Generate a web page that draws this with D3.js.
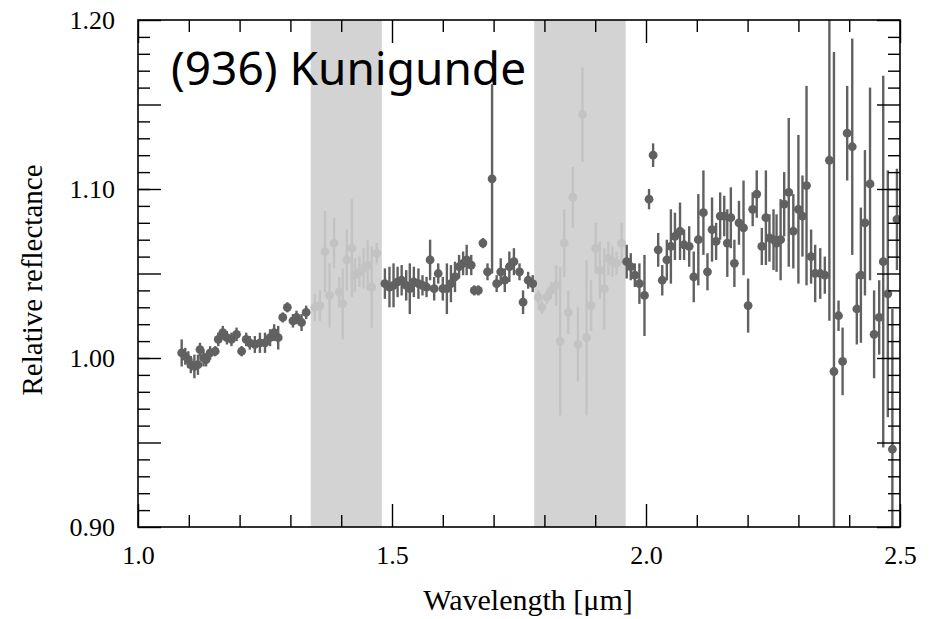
<!DOCTYPE html>
<html><head><meta charset="utf-8">
<script src="https://cdn.jsdelivr.net/npm/d3@7"></script>
<style>body{margin:0;background:#fff}</style>
</head><body>
<svg id="c" width="930" height="619"></svg>
<script>
const wavelength=[1.086,1.093,1.099,1.104,1.111,1.118,1.122,1.129,1.134,1.142,1.152,1.158,1.167,1.175,1.184,1.194,1.204,1.213,1.220,1.230,1.240,1.250,1.260,1.268,1.276,1.285,1.294,1.305,1.312,1.322,1.331,
1.348,1.358,1.368,1.377,1.386,1.396,1.403,1.411,1.421,1.427,1.436,1.444,1.452,1.460,1.470,
1.486,1.495,1.503,1.511,1.519,1.528,1.535,1.543,1.552,1.560,1.568,1.575,1.583,1.591,1.600,1.608,1.616,1.624,1.632,1.640,1.647,1.656,1.662,1.670,1.679,1.688,1.697,1.706,1.714,1.722,1.731,1.740,1.751,1.758,1.768,1.777,
1.788,1.795,1.805,1.813,1.823,1.831,1.839,1.847,1.856,1.866,1.875,1.883,1.892,1.901,1.909,1.918,1.926,1.934,1.942,1.952,
1.962,1.970,1.978,1.987,1.997,2.006,2.014,2.024,2.032,2.041,2.049,2.057,2.067,2.075,2.085,2.094,2.103,2.113,2.121,2.130,2.138,2.146,2.154,2.160,2.167,2.174,2.183,2.192,2.201,2.210,2.218,2.228,2.236,2.243,2.251,2.257,2.265,2.272,2.281,2.290,2.300,2.308,2.316,2.325,2.333,2.343,2.352,2.361,2.370,2.379,2.387,2.396,2.406,2.415,2.423,2.431,2.441,2.449,2.459,2.467,2.476,2.485,2.494];
const reflectance=[1.003,1.001,0.999,0.996,0.995,0.996,1.005,1.000,0.999,1.003,1.004,1.011,1.015,1.012,1.011,1.014,1.004,1.011,1.009,1.008,1.009,1.009,1.012,1.015,1.012,1.024,1.030,1.022,1.024,1.021,1.027,
1.030,1.031,1.063,1.037,1.068,1.039,1.032,1.058,1.065,1.049,1.051,1.053,1.055,1.042,1.062,
1.044,1.042,1.043,1.045,1.046,1.043,1.041,1.045,1.044,1.043,1.042,1.058,1.041,1.050,1.041,1.041,1.044,1.048,1.054,1.056,1.058,1.055,1.040,1.040,1.068,1.051,1.106,1.044,1.051,1.046,1.054,1.057,1.051,1.033,1.046,1.044,
1.036,1.030,1.036,1.040,1.043,1.010,1.068,1.027,1.095,1.008,1.144,1.012,1.031,1.065,1.052,1.041,1.059,1.057,1.056,1.068,
1.057,1.054,1.049,1.044,1.037,1.094,1.120,1.064,1.046,1.058,1.066,1.072,1.075,1.067,1.066,1.048,1.070,1.086,1.051,1.076,1.069,1.084,1.084,1.068,1.083,1.056,1.080,1.077,1.031,1.088,1.097,1.066,1.083,1.071,1.070,1.068,1.070,1.091,1.098,1.075,1.088,1.084,1.102,1.060,1.050,1.050,1.049,1.117,0.992,1.025,0.998,1.133,1.125,1.029,1.049,1.080,1.103,1.014,1.024,1.057,1.038,0.946,1.082];
const errors=[.008,.005,.005,.005,.007,.006,.004,.005,.004,.004,.003,.004,.004,.004,.004,.004,.003,.004,.004,.005,.006,.006,.005,.005,.007,.003,.003,.004,.004,.005,.004,
.008,.009,.024,.019,.015,.009,.021,.018,.029,.010,.009,.012,.015,.024,.006,
.009,.012,.013,.009,.009,.009,.015,.009,.009,.006,.006,.012,.007,.006,.007,.015,.011,.009,.007,.007,.009,.006,.003,.003,.003,.005,.056,.005,.008,.007,.009,.008,.005,.007,.005,.005,
.004,.004,.004,.005,.012,.044,.020,.013,.018,.022,.028,.046,.015,.015,.017,.024,.010,.009,.007,.012,
.010,.008,.007,.012,.024,.006,.007,.010,.009,.012,.022,.014,.017,.009,.012,.015,.027,.025,.011,.019,.011,.014,.012,.020,.018,.014,.013,.028,.016,.010,.014,.011,.028,.014,.018,.017,.024,.019,.044,.022,.044,.024,.059,.016,.017,.015,.011,.095,.189,.009,.020,.028,.064,.021,.040,.043,.057,.026,.022,.110,.073,.083,.030];
const telluricBands=[[1.34,1.48],[1.78,1.96]];
const xTickValues=[1.0,1.5,2.0,2.5];
const xTickLabels=["1.0","1.5","2.0","2.5"];
const yTickValues=[0.90,1.00,1.10,1.20];
const yTickLabels=["0.90","1.00","1.10","1.20"];
const titleText="(936) Kunigunde";
const xTitle="Wavelength [\u03bcm]";
const yTitle="Relative reflectance";

const L=138,R=900,T=20,B=527;
const x=d3.scaleLinear().domain([1.0,2.5]).range([L,R]);
const y=d3.scaleLinear().domain([0.90,1.20]).range([B,T]);
const svg=d3.select("#c");
const serif="'Liberation Serif','Times New Roman',serif";

svg.append("defs").append("clipPath").attr("id","pc").append("rect")
  .attr("x",L).attr("y",T).attr("width",R-L).attr("height",B-T);

svg.append("g").selectAll("rect").data(telluricBands).join("rect")
  .attr("x",d=>x(d[0])).attr("width",d=>x(d[1])-x(d[0]))
  .attr("y",T).attr("height",B-T).attr("fill","#d3d3d3");

const data=wavelength.map((w,i)=>({w,r:reflectance[i],e:errors[i],
  inBand:telluricBands.some(b=>w>=b[0]&&w<=b[1])}));
const col=d=>d.inBand?"#c3c3c3":"#616161";

const g=svg.append("g").attr("clip-path","url(#pc)");
g.selectAll("line.eb").data(data).join("line").attr("class","eb")
  .attr("x1",d=>x(d.w)).attr("x2",d=>x(d.w))
  .attr("y1",d=>y(d.r+d.e)).attr("y2",d=>y(d.r-d.e))
  .attr("stroke",col).attr("stroke-width",2.4);
g.selectAll("circle").data(data).join("circle")
  .attr("cx",d=>x(d.w)).attr("cy",d=>y(d.r)).attr("r",4.4).attr("fill",col);

const round=v=>Math.round(v*1000)/1000;
const xMinor=d3.range(1,25).map(i=>round(1+i*0.1)).filter(v=>!xTickValues.some(m=>Math.abs(m-v)<1e-6));
const yAll=d3.range(1,30).map(i=>round(0.9+i*0.01));
const yMid=yAll.filter(v=>Math.abs(v*20-Math.round(v*20))<1e-6 && !yTickValues.some(m=>Math.abs(m-v)<1e-6));
const yMinor=yAll.filter(v=>!yMid.includes(v));

function axisGroup(axis,tx,ty){
  const gg=svg.append("g").attr("transform",`translate(${tx},${ty})`).call(axis);
  gg.select(".domain").remove();
  gg.selectAll("line").attr("stroke","#000").attr("stroke-width",1.4);
  return gg;
}
axisGroup(d3.axisBottom(x).tickValues(xMinor).tickSize(-12).tickFormat(""),0,B);
axisGroup(d3.axisBottom(x).tickValues(xTickValues).tickSize(-23).tickPadding(19).tickFormat((d,i)=>xTickLabels[i]),0,B);
axisGroup(d3.axisTop(x).tickValues(xMinor).tickSize(-12).tickFormat(""),0,T);
axisGroup(d3.axisTop(x).tickValues(xTickValues).tickSize(-23).tickFormat(""),0,T);
axisGroup(d3.axisLeft(y).tickValues(yMinor).tickSize(-12).tickFormat(""),L,0);
axisGroup(d3.axisLeft(y).tickValues(yMid).tickSize(-23).tickFormat(""),L,0);
axisGroup(d3.axisLeft(y).tickValues(yTickValues).tickSize(-23).tickPadding(23).tickFormat((d,i)=>yTickLabels[i]),L,0);
axisGroup(d3.axisRight(y).tickValues(yMinor).tickSize(-12).tickFormat(""),R,0);
axisGroup(d3.axisRight(y).tickValues(yMid.concat(yTickValues)).tickSize(-23).tickFormat(""),R,0);

svg.selectAll(".tick text").attr("font-family",serif).attr("font-size",26).attr("fill","#000");

svg.append("rect").attr("x",L).attr("y",T).attr("width",R-L).attr("height",B-T)
  .attr("fill","none").attr("stroke","#000").attr("stroke-width",1.6);

svg.append("text").attr("x",528).attr("y",610).attr("text-anchor","middle")
  .attr("font-family",serif).attr("font-size",30).text(xTitle);
svg.append("text").attr("transform","translate(42,280) rotate(-90)").attr("text-anchor","middle")
  .attr("font-family",serif).attr("font-size",29).text(yTitle);
svg.append("text").attr("x",171).attr("y",85)
  .attr("font-family","'Noto Sans','Open Sans',sans-serif").attr("font-size",46).attr("fill","#000").text(titleText);
</script>
</body></html>
